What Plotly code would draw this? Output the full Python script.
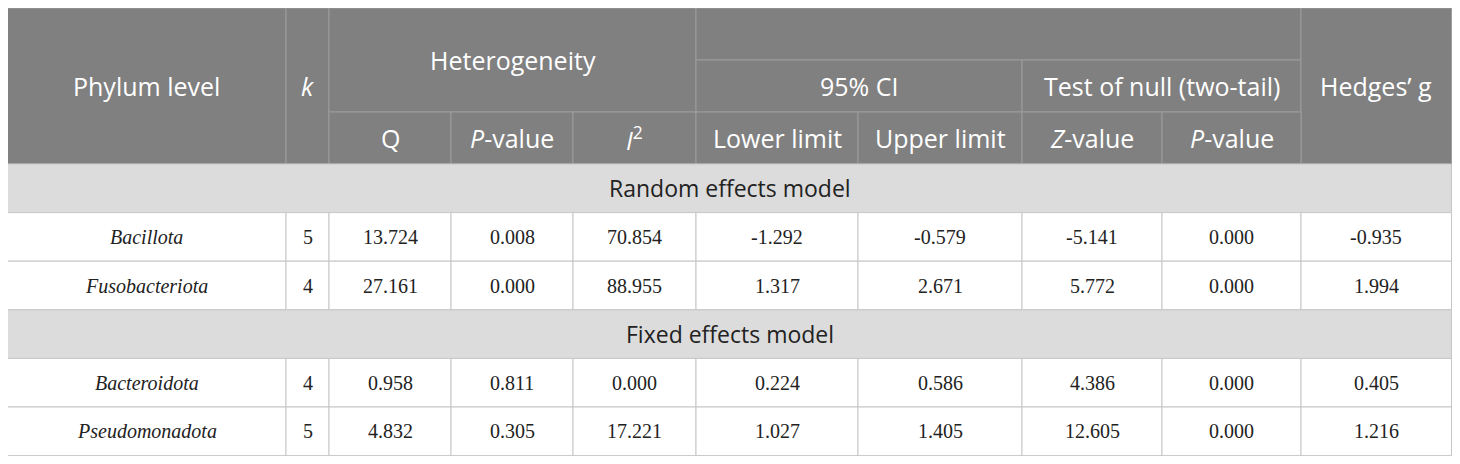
import plotly.graph_objects as go

# table contents
phylum = ["Bacillota", "Fusobacteriota", "Bacteroidota", "Pseudomonadota"]
k_values = ["5", "4", "4", "5"]
q_values = ["13.724", "27.161", "0.958", "4.832"]
het_p = ["0.008", "0.000", "0.811", "0.305"]
i2_values = ["70.854", "88.955", "0.000", "17.221"]
ci_lower = ["-1.292", "1.317", "0.224", "1.027"]
ci_upper = ["-0.579", "2.671", "0.586", "1.405"]
z_values = ["-5.141", "5.772", "4.386", "12.605"]
null_p = ["0.000", "0.000", "0.000", "0.000"]
hedges_g = ["-0.935", "1.994", "0.405", "1.216"]

models = ["Random effects model", "Fixed effects model"]
row_model = [0, 0, 1, 1]

sub_headers = ["Q", "<i>P</i>-value", "<i>I</i><sup>2</sup>", "Lower limit",
               "Upper limit", "<i>Z</i>-value", "<i>P</i>-value"]

# layout of the grid (page pixels; the page body has an 8px margin)
col_edges = [7.5, 286, 329, 451, 573, 696, 858, 1022, 1162, 1301, 1451.5]
head_edges = [8, 60, 112, 164]
row_h = 48.6

HEAD_BG = "#7f807f"
HEAD_LINE = "#9c9c9c"
SECT_BG = "#dcdcdc"
BODY_LINE = "#c6c6c6"
TXT = "#222222"
SANS = "Open Sans"
SERIF = "Liberation Serif"

shapes = []
annotations = []


def cell(c0, c1, y0, y1, fill, line):
    shapes.append(dict(type="rect", xref="x", yref="y",
                       x0=col_edges[c0], x1=col_edges[c1], y0=y0, y1=y1,
                       fillcolor=fill, line=dict(color=line, width=1), layer="below"))


def text(c0, c1, y0, y1, s, font, size, color):
    annotations.append(dict(x=(col_edges[c0] + col_edges[c1]) / 2, y=(y0 + y1) / 2,
                            xref="x", yref="y", text=s, showarrow=False,
                            xanchor="center", yanchor="middle",
                            font=dict(family=font, size=size, color=color)))


# header block
h0, h1, h2, h3 = head_edges
head = [
    (0, 1, h0, h3, "Phylum level"),
    (1, 2, h0, h3, "<i>k</i>"),
    (2, 5, h0, h2, "Heterogeneity"),
    (5, 9, h0, h1, ""),
    (5, 7, h1, h2, "95% CI"),
    (7, 9, h1, h2, "Test of null (two-tail)"),
    (9, 10, h0, h3, "Hedges’ g"),
]
for c0, c1, y0, y1, s in head:
    cell(c0, c1, y0, y1, HEAD_BG, HEAD_LINE)
    if s:
        text(c0, c1, y0, y1, s, SANS, 25, "white")
for i, s in enumerate(sub_headers):
    cell(i + 2, i + 3, h2, h3, HEAD_BG, HEAD_LINE)
    text(i + 2, i + 3, h2, h3, s, SANS, 25, "white")

# body
columns = [phylum, k_values, q_values, het_p, i2_values, ci_lower,
           ci_upper, z_values, null_p, hedges_g]
y = h3
last_model = None
for r in range(len(phylum)):
    if row_model[r] != last_model:
        last_model = row_model[r]
        cell(0, 10, y, y + row_h, SECT_BG, BODY_LINE)
        text(0, 10, y, y + row_h, models[last_model], SANS, 23, TXT)
        y += row_h
    for c, col in enumerate(columns):
        cell(c, c + 1, y, y + row_h, "white", BODY_LINE)
        s = f"<i>{col[r]}</i>" if c == 0 else col[r]
        text(c, c + 1, y, y + row_h, s, SERIF, 20, TXT)
    y += row_h

fig = go.Figure()
fig.update_layout(
    width=1444, height=448,
    margin=dict(l=0, r=0, t=0, b=0),
    paper_bgcolor="white", plot_bgcolor="white",
    xaxis=dict(range=[8, 1452], visible=False, fixedrange=True),
    yaxis=dict(range=[456, 8], visible=False, fixedrange=True),
    shapes=shapes, annotations=annotations,
    showlegend=False,
)

fig.write_html("out.html")
